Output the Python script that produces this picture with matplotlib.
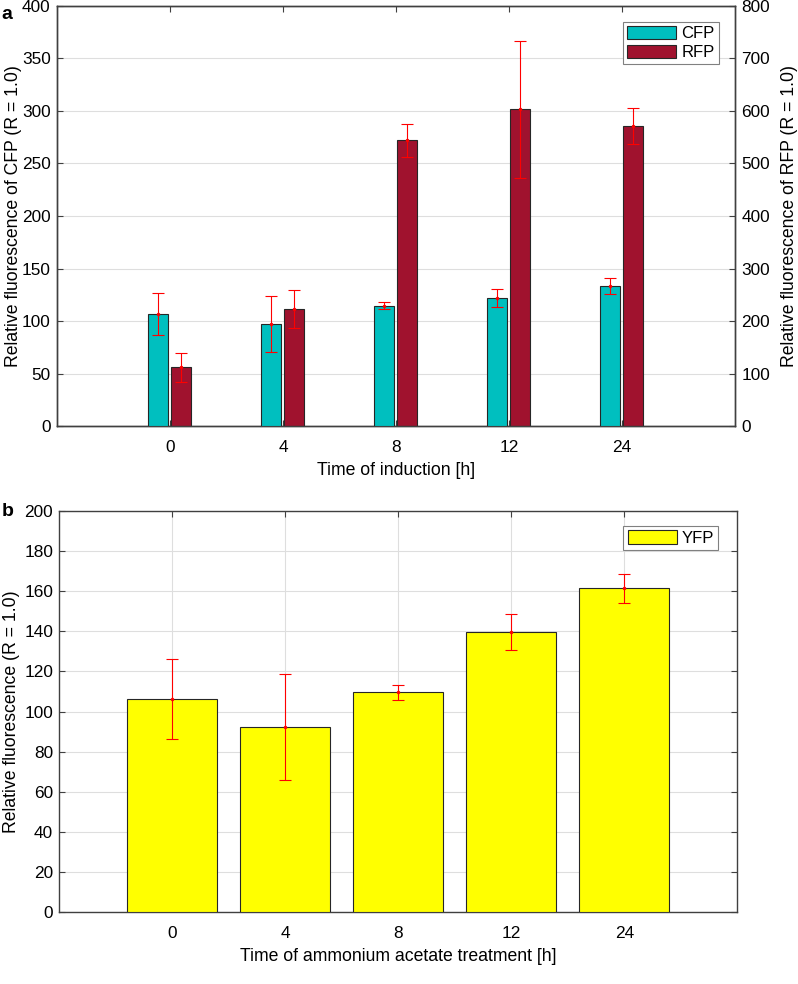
import matplotlib
matplotlib.use("Agg")
import matplotlib.pyplot as plt
import numpy as np

plt.rcParams['font.family'] = ['Liberation Sans', 'DejaVu Sans']
plt.rcParams['font.size'] = 12

hours = ['0', '4', '8', '12', '24']

cfp = [107, 97, 114.6, 122.2, 133.6]
cfp_err = [20, 26.5, 3.5, 8.7, 7.6]
rfp = [112, 223, 544, 603, 571]
rfp_err = [27.6, 35.5, 31.5, 131, 34]

yfp = [106.2, 92.4, 109.6, 139.6, 161.3]
yfp_err = [20, 26.5, 3.7, 9, 7.2]

cfp_color = '#00BFBF'
rfp_color = '#A0122E'
yfp_color = '#FFFF00'
edge = '#262626'
spine = '#404040'
grid_c = '#dedede'
TICK_FS = 12.4
LAB_FS = 12.7


def style(ax):
    for s in ax.spines.values():
        s.set_color(spine)
        s.set_linewidth(1.0)
    ax.tick_params(direction='in', length=4, width=0.8, colors=spine,
                   labelcolor='black', labelsize=TICK_FS)
    ax.tick_params(axis='x', pad=10)
    ax.tick_params(axis='y', pad=4.5)


def err(ax, x, y, e):
    ax.errorbar(x, y, yerr=e, fmt='.', color='red', ecolor='red',
                elinewidth=0.8, capsize=4.5, capthick=0.8, markersize=3,
                zorder=5)


fig = plt.figure(figsize=(7.98, 9.84), dpi=100)

# panel a
x = np.arange(1, len(hours) + 1)
ax = fig.add_axes([0.0714, 0.567, 0.8496, 0.427])
ax2 = ax.twinx()
ax.set_zorder(ax2.get_zorder() + 1)
ax.patch.set_visible(False)

b1 = ax.bar(x - 0.105, cfp, width=0.18, color=cfp_color, edgecolor=edge,
            linewidth=0.8, label='CFP', zorder=3)
err(ax, x - 0.105, cfp, cfp_err)
b2 = ax2.bar(x + 0.1, rfp, width=0.18, color=rfp_color, edgecolor=edge,
             linewidth=0.8, label='RFP', zorder=3)
err(ax2, x + 0.1, rfp, rfp_err)

ax.set_xlim(0, 6)
ax.set_ylim(0, 400)
ax2.set_ylim(0, 800)
ax.set_yticks(np.arange(0, 401, 50))
ax2.set_yticks(np.arange(0, 801, 100))
ax.set_xticks(x)
ax.set_xticklabels(hours)
style(ax)
style(ax2)
ax.tick_params(top=True, right=False)
ax2.tick_params(left=False, right=True)
ax.set_xlabel('Time of induction [h]', fontsize=LAB_FS, labelpad=5)
ax.set_ylabel('Relative fluorescence of CFP (R = 1.0)', fontsize=LAB_FS, labelpad=0)
ax2.set_ylabel('Relative fluorescence of RFP (R = 1.0)', fontsize=LAB_FS, labelpad=8)

# grid on the back axes so it sits under both bar sets
ax2.set_xticks(x)
ax2.grid(True, axis='x', color=grid_c, linewidth=0.8, zorder=0)
for yv in np.arange(0, 801, 100):
    ax2.axhline(yv, color=grid_c, linewidth=0.8, zorder=0)
ax2.set_axisbelow(True)

leg = ax.legend([b1, b2], ['CFP', 'RFP'], loc='upper right',
                bbox_to_anchor=(0.976, 0.962), borderaxespad=0,
                handlelength=2.95, handleheight=0.85, handletextpad=0.3,
                borderpad=0.25, labelspacing=0.2, fancybox=False,
                edgecolor='#808080', framealpha=1, fontsize=12)
leg.get_frame().set_linewidth(0.8)

fig.text(0.002, 0.994, 'a', fontsize=14, fontweight='bold', va='top')

# panel b
bx = fig.add_axes([0.0743, 0.0729, 0.8496, 0.408])
bb = bx.bar(x, yfp, width=0.8, color=yfp_color, edgecolor=edge,
            linewidth=0.8, label='YFP', zorder=3)
err(bx, x, yfp, yfp_err)
bx.set_xlim(0, 6)
bx.set_ylim(0, 200)
bx.set_yticks(np.arange(0, 201, 20))
bx.set_xticks(x)
bx.set_xticklabels(hours)
bx.grid(True, color=grid_c, linewidth=0.8)
bx.set_axisbelow(True)
style(bx)
bx.tick_params(top=True, right=True)
bx.set_xlabel('Time of ammonium acetate treatment [h]', fontsize=LAB_FS, labelpad=5)
bx.set_ylabel('Relative fluorescence (R = 1.0)', fontsize=LAB_FS, labelpad=3)
leg2 = bx.legend([bb], ['YFP'], loc='upper right',
                 bbox_to_anchor=(0.972, 0.962), borderaxespad=0,
                 handlelength=2.95, handleheight=0.85, handletextpad=0.3,
                 borderpad=0.25, fancybox=False, edgecolor='#808080',
                 framealpha=1, fontsize=12)
leg2.get_frame().set_linewidth(0.8)

fig.text(0.002, 0.489, 'b', fontsize=14, fontweight='bold', va='top')

fig.savefig('out.png', dpi=100)
